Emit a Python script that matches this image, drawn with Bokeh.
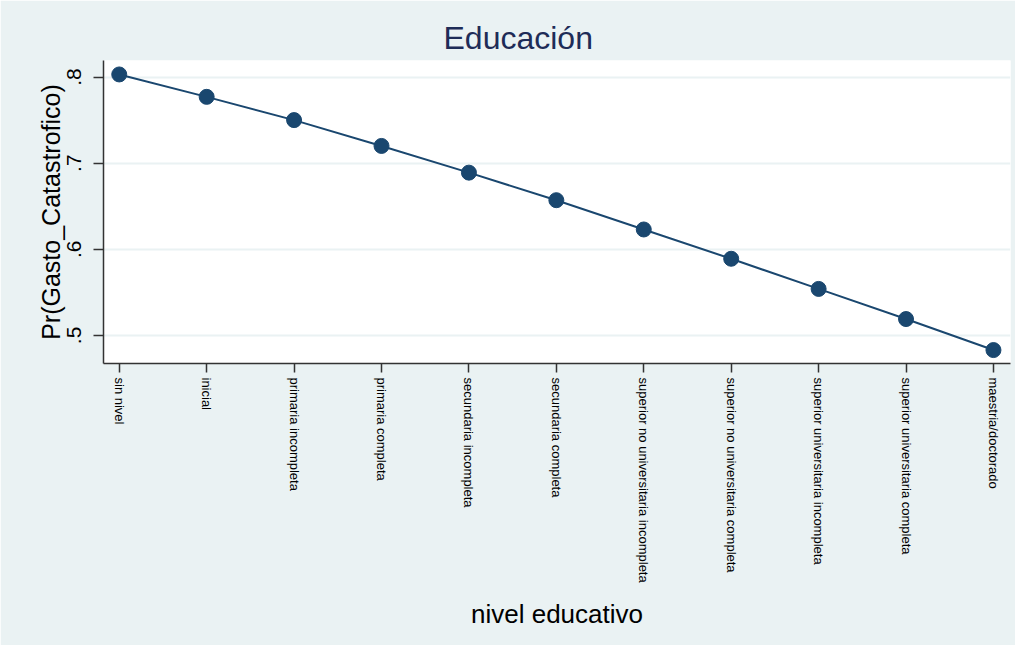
from bokeh.plotting import figure
from bokeh.models import FixedTicker, Range1d, ColumnDataSource
from bokeh.embed import file_html
from bokeh.resources import INLINE

categories = ["sin nivel", "inicial", "primaria incompleta", "primaria completa",
              "secundaria incompleta", "secundaria completa",
              "superior no universitaria incompleta", "superior no universitaria completa",
              "superior universitaria incompleta", "superior universitaria completa",
              "maestria/doctorado"]
probabilities = [0.803, 0.777, 0.750, 0.720, 0.689, 0.657, 0.623, 0.589, 0.554, 0.519, 0.483]
y_ticks = [0.5, 0.6, 0.7, 0.8]
y_tick_labels = [".5", ".6", ".7", ".8"]

BG = "#EAF2F3"
NAVY = "#1A476F"
AXIS = "#333333"
FONT = "Liberation Sans"

positions = list(range(len(categories)))
src = ColumnDataSource(dict(x=positions, y=probabilities, cat=categories))

p = figure(width=1015, height=645, output_backend="svg", toolbar_location=None,
           x_range=Range1d(-0.18, 10.195), y_range=Range1d(0.4674, 0.8192),
           min_border_left=103, min_border_right=5, min_border_top=60, min_border_bottom=282)

p.background_fill_color = "white"
p.border_fill_color = BG
p.outline_line_color = None

p.title.text = "Educación"
p.title.align = "left"
p.title.offset = 340
p.title.text_font = FONT
p.title.text_font_size = "32px"
p.title.text_font_style = "normal"
p.title.text_color = "#1E2C57"

p.line("x", "y", source=src, line_color=NAVY, line_width=2)
p.scatter("x", "y", source=src, size=15, fill_color=NAVY, line_color=NAVY)

# x axis
xa = p.xaxis[0]
xa.ticker = FixedTicker(ticks=positions)
xa.major_label_overrides = {i: c for i, c in zip(positions, categories)}
xa.major_label_orientation = "vertical"
xa.major_label_text_font = FONT
xa.major_label_text_font_size = "13px"
xa.major_label_text_color = "black"
xa.major_label_standoff = 5
xa.axis_label = "nivel educativo"
xa.axis_label_text_font = FONT
xa.axis_label_text_font_size = "26px"
xa.axis_label_text_font_style = "normal"
xa.axis_label_text_color = "black"
xa.axis_label_standoff = 13
xa.minor_tick_line_color = None
xa.major_tick_in = 0
xa.major_tick_out = 9
xa.major_tick_line_color = AXIS
xa.major_tick_line_width = 1.5
xa.axis_line_color = AXIS
xa.axis_line_width = 1.5

# y axis
ya = p.yaxis[0]
ya.ticker = FixedTicker(ticks=y_ticks)
ya.major_label_overrides = {t: l for t, l in zip(y_ticks, y_tick_labels)}
ya.major_label_orientation = "vertical"
ya.major_label_text_font = FONT
ya.major_label_text_font_size = "21px"
ya.major_label_text_color = "black"
ya.major_label_standoff = 12
ya.axis_label = "Pr(Gasto_Catastrofico)"
ya.axis_label_text_font = FONT
ya.axis_label_text_font_size = "25px"
ya.axis_label_text_font_style = "normal"
ya.axis_label_text_color = "black"
ya.axis_label_standoff = 0
ya.minor_tick_line_color = None
ya.major_tick_in = 0
ya.major_tick_out = 10
ya.major_tick_line_color = AXIS
ya.major_tick_line_width = 1.5
ya.axis_line_color = AXIS
ya.axis_line_width = 1.5

p.xgrid.grid_line_color = None
p.ygrid.ticker = FixedTicker(ticks=y_ticks)
p.ygrid.grid_line_color = BG
p.ygrid.grid_line_width = 2

open("out.html", "w").write(file_html(p, INLINE))
